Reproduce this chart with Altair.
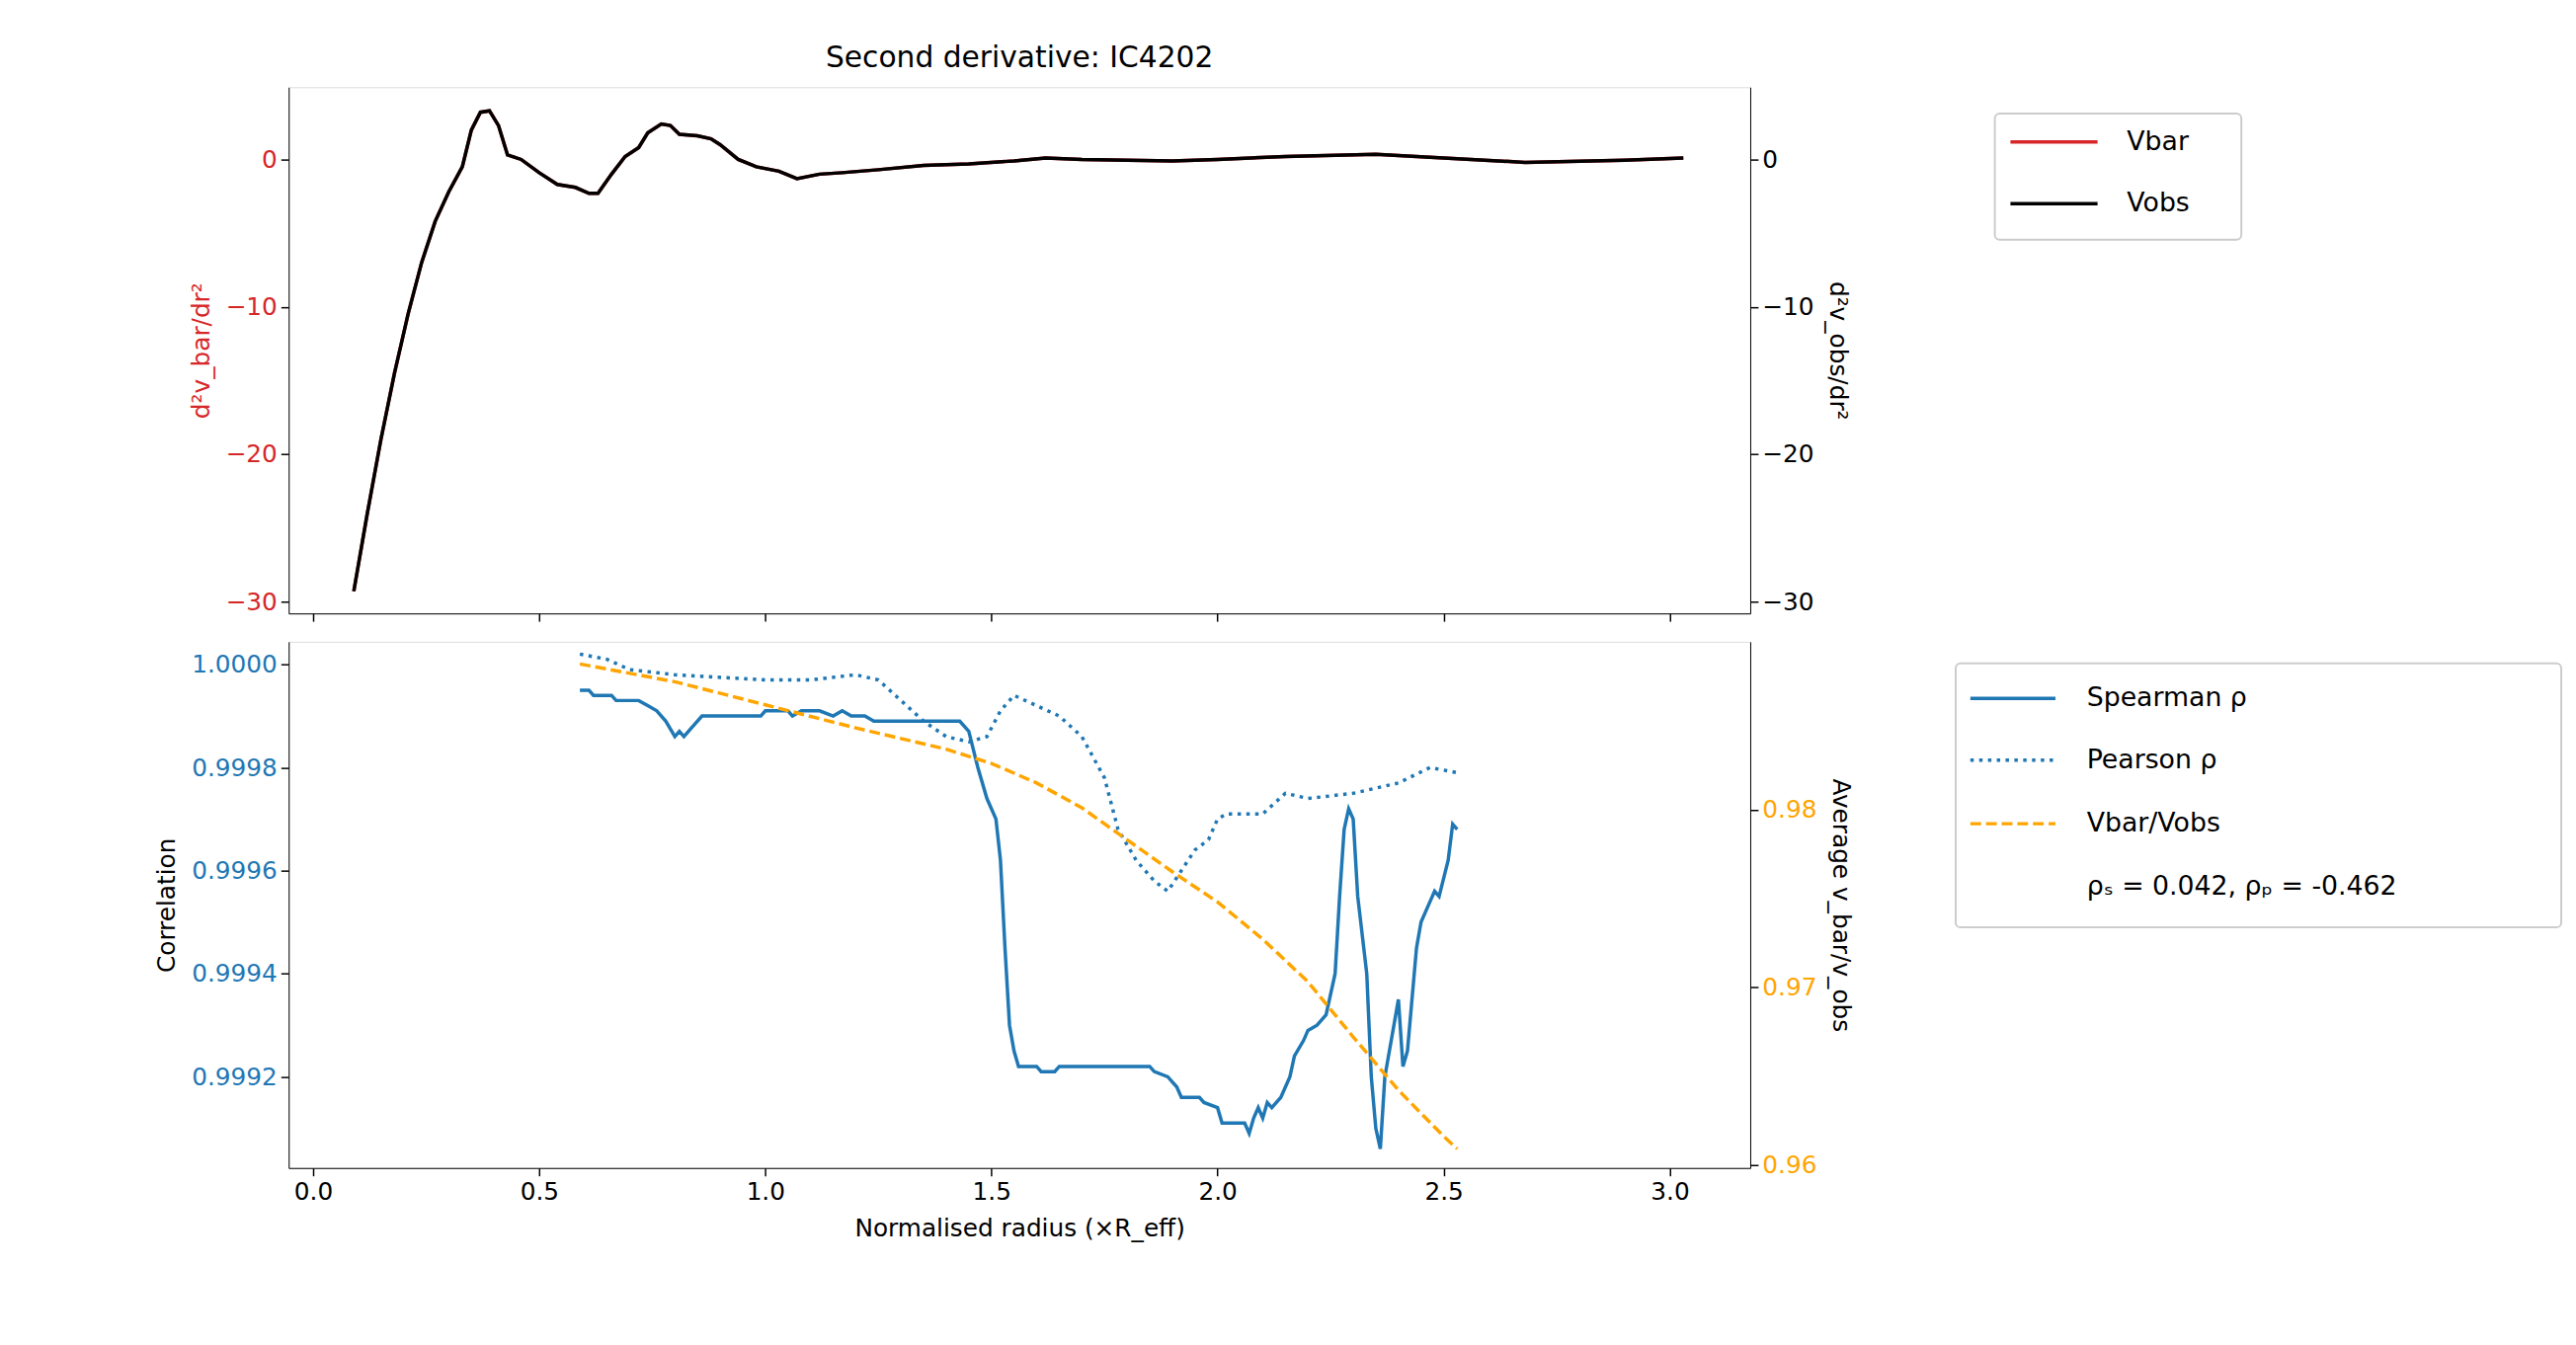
import pandas as pd
import altair as alt

# ── DATA ──────────────────────────────────────────────────────────────
r_top = [0.09, 0.12, 0.15, 0.18, 0.21, 0.24, 0.27, 0.30, 0.33, 0.35, 0.37, 0.39, 0.41, 0.43,
         0.46, 0.50, 0.54, 0.58, 0.61, 0.63, 0.66, 0.69, 0.72, 0.74, 0.77, 0.79, 0.81, 0.85,
         0.88, 0.90, 0.94, 0.98, 1.03, 1.07, 1.12, 1.17, 1.25, 1.35, 1.45, 1.55, 1.62, 1.70,
         1.90, 2.00, 2.15, 2.35, 2.50, 2.68, 2.90, 3.03]
d2_vobs = [-29.3, -24.0, -19.0, -14.5, -10.5, -7.0, -4.2, -2.2, -0.5, 2.0, 3.2, 3.3, 2.3, 0.3,
           0.0, -0.9, -1.7, -1.9, -2.3, -2.3, -1.0, 0.2, 0.8, 1.8, 2.4, 2.3, 1.7, 1.6,
           1.4, 1.0, 0.0, -0.5, -0.8, -1.3, -1.0, -0.9, -0.7, -0.4, -0.3, -0.1, 0.1, 0.0,
           -0.1, 0.0, 0.2, 0.35, 0.1, -0.2, -0.05, 0.1]
d2_vbar = [-29.3, -24.0, -19.0, -14.5, -10.5, -7.0, -4.2, -2.2, -0.5, 2.0, 3.2, 3.3, 2.3, 0.3,
           0.0, -0.9, -1.7, -1.9, -2.3, -2.3, -1.0, 0.2, 0.8, 1.8, 2.4, 2.3, 1.7, 1.6,
           1.4, 1.0, 0.0, -0.5, -0.8, -1.3, -1.0, -0.9, -0.7, -0.4, -0.3, -0.1, 0.1, 0.0,
           -0.1, 0.0, 0.2, 0.35, 0.1, -0.2, -0.05, 0.1]

r_spear = [0.59, 0.61, 0.62, 0.66, 0.67, 0.72, 0.74, 0.76, 0.78, 0.80, 0.81, 0.82, 0.84, 0.86,
           0.90, 0.99, 1.00, 1.05, 1.06, 1.08, 1.12, 1.15, 1.17, 1.19, 1.22, 1.24, 1.43, 1.45,
           1.47, 1.49, 1.51, 1.52, 1.53, 1.54, 1.55, 1.56, 1.60, 1.61, 1.64, 1.65, 1.85, 1.86,
           1.89, 1.91, 1.92, 1.96, 1.97, 2.00, 2.01, 2.06, 2.07, 2.08, 2.09, 2.10, 2.11, 2.12,
           2.14, 2.16, 2.17, 2.19, 2.20, 2.22, 2.24, 2.26, 2.27, 2.28, 2.29, 2.30, 2.31, 2.33,
           2.34, 2.35, 2.36, 2.37, 2.39, 2.40, 2.41, 2.42, 2.44, 2.45, 2.47, 2.48, 2.49, 2.51,
           2.52, 2.53]
spearman = [0.99995, 0.99995, 0.99994, 0.99994, 0.99993, 0.99993, 0.99992, 0.99991, 0.99989,
            0.99986, 0.99987, 0.99986, 0.99988, 0.99990, 0.99990, 0.99990, 0.99991, 0.99991,
            0.99990, 0.99991, 0.99991, 0.99990, 0.99991, 0.99990, 0.99990, 0.99989, 0.99989,
            0.99987, 0.99980, 0.99974, 0.99970, 0.99962, 0.99945, 0.99930, 0.99925, 0.99922,
            0.99922, 0.99921, 0.99921, 0.99922, 0.99922, 0.99921, 0.99920, 0.99918, 0.99916,
            0.99916, 0.99915, 0.99914, 0.99911, 0.99911, 0.99909, 0.99912, 0.99914, 0.99912,
            0.99915, 0.99914, 0.99916, 0.99920, 0.99924, 0.99927, 0.99929, 0.99930, 0.99932,
            0.99940, 0.99955, 0.99968, 0.99972, 0.99970, 0.99955, 0.99940, 0.99920, 0.99910,
            0.99906, 0.99920, 0.99930, 0.99935, 0.99922, 0.99925, 0.99945, 0.99950, 0.99954,
            0.99956, 0.99955, 0.99962, 0.99969, 0.99968]

r_pear = [0.59, 0.65, 0.70, 0.80, 1.00, 1.10, 1.20, 1.25, 1.30, 1.35, 1.40, 1.45, 1.49, 1.52,
          1.55, 1.60, 1.65, 1.70, 1.75, 1.78, 1.82, 1.86, 1.89, 1.92, 1.95, 1.98, 2.00, 2.02,
          2.10, 2.15, 2.20, 2.30, 2.40, 2.47, 2.53]
pearson = [1.00002, 1.00001, 0.99999, 0.99998, 0.99997, 0.99997, 0.99998, 0.99997, 0.99993,
           0.99989, 0.99986, 0.99985, 0.99986, 0.99991, 0.99994, 0.99992, 0.99990, 0.99986,
           0.99978, 0.99968, 0.99962, 0.99958, 0.99956, 0.99960, 0.99964, 0.99966, 0.99970,
           0.99971, 0.99971, 0.99975, 0.99974, 0.99975, 0.99977, 0.99980, 0.99979]

r_ratio = [0.59, 0.80, 1.00, 1.20, 1.40, 1.50, 1.60, 1.70, 1.80, 1.90, 2.00, 2.10, 2.20,
           2.30, 2.40, 2.50, 2.53]
ratio = [0.9882, 0.9872, 0.9859, 0.9846, 0.9834, 0.9826, 0.9815, 0.9801, 0.9783, 0.9765,
         0.9748, 0.9727, 0.9703, 0.9672, 0.9642, 0.9616, 0.9609]

top_labels = ["Vbar", "Vobs"]
bottom_labels = ["Spearman ρ", "Pearson ρ", "Vbar/Vobs", "ρₛ = 0.042, ρₚ = -0.462"]

# ── STYLE ─────────────────────────────────────────────────────────────
W, H = 1494, 538
FONT = "DejaVu Sans"
FS = 25
BLUE, ORANGE, RED = "#1f77b4", "#FFA500", "#d62728"
xscale = alt.Scale(domain=[-0.054, 3.178], nice=False, zero=False)
xticks = [0, 0.5, 1, 1.5, 2, 2.5, 3]


def axis(**kw):
    base = dict(labelFont=FONT, titleFont=FONT, labelFontSize=FS, titleFontSize=FS,
                titleFontWeight="normal", grid=False, tickSize=8, tickWidth=1.5,
                domainColor="black", tickColor="black", labelColor="black",
                titleColor="black", labelPadding=4, titlePadding=12)
    base.update(kw)
    return alt.Axis(**base)


def legend_layers(items, box, line_x, text_x, ys):
    layers = [alt.Chart(pd.DataFrame({"a": [0]})).mark_rect(
        fill="white", stroke="#cccccc", strokeWidth=2, cornerRadius=5
    ).encode(x=alt.value(box[0]), x2=alt.value(box[1]), y=alt.value(box[2]), y2=alt.value(box[3]))]
    for (label, color, dash), y in zip(items, ys):
        if color:
            layers.append(alt.Chart(pd.DataFrame({"a": [0]})).mark_rule(
                color=color, strokeWidth=3.5, strokeDash=dash
            ).encode(x=alt.value(line_x[0]), x2=alt.value(line_x[1]), y=alt.value(y)))
        layers.append(alt.Chart(pd.DataFrame({"t": [label]})).mark_text(
            font=FONT, fontSize=FS + 2, align="left", baseline="middle", color="black"
        ).encode(x=alt.value(text_x), y=alt.value(y), text="t:N"))
    return layers


# ── TOP PANEL ─────────────────────────────────────────────────────────
top_df = pd.DataFrame({"r": r_top, "vbar": d2_vbar, "vobs": d2_vobs})
ydom_top = alt.Scale(domain=[-30.8, 4.9], nice=False, zero=False)
x_top = alt.X("r:Q", scale=xscale, axis=axis(labels=False, title=None, values=xticks))

vbar_line = alt.Chart(top_df).mark_line(color=RED, strokeWidth=3.5).encode(
    x=x_top,
    y=alt.Y("vbar:Q", scale=ydom_top,
            axis=axis(title="d²v_bar/dr²", titleColor=RED, labelColor=RED, values=[-30, -20, -10, 0])))
vobs_line = alt.Chart(top_df).mark_line(color="black", strokeWidth=3.5).encode(
    x=x_top,
    y=alt.Y("vobs:Q", scale=ydom_top,
            axis=axis(title="d²v_obs/dr²", orient="right", values=[-30, -20, -10, 0])))

top_items = [(top_labels[0], RED, [1, 0]), (top_labels[1], "black", [1, 0])]
top = alt.layer(vbar_line, vobs_line,
                *legend_layers(top_items, (1744, 1996, 27, 156), (1760, 1849), 1879, [56, 119])
                ).resolve_scale(y="independent").properties(
    width=W, height=H,
    title=alt.TitleParams("Second derivative: IC4202", font=FONT, fontSize=30,
                          fontWeight="normal", offset=14))

# ── BOTTOM PANEL ──────────────────────────────────────────────────────
ydom_corr = alt.Scale(domain=[0.999023, 1.000044], nice=False, zero=False)
x_bot = alt.X("r:Q", scale=xscale,
              axis=axis(title="Normalised radius (×R_eff)", format=".1f", values=xticks))
corr_axis = axis(title="Correlation", labelColor=BLUE, format=".4f",
                 values=[0.9992, 0.9994, 0.9996, 0.9998, 1.0])

spear_line = alt.Chart(pd.DataFrame({"r": r_spear, "c": spearman})).mark_line(
    color=BLUE, strokeWidth=3.5).encode(
    x=x_bot, y=alt.Y("c:Q", scale=ydom_corr, axis=corr_axis))
pear_line = alt.Chart(pd.DataFrame({"r": r_pear, "c": pearson})).mark_line(
    color=BLUE, strokeWidth=3.5, strokeDash=[3.5, 5.5]).encode(
    x=x_bot, y=alt.Y("c:Q", scale=ydom_corr, axis=corr_axis))
corr = alt.layer(spear_line, pear_line)

ratio_line = alt.Chart(pd.DataFrame({"r": r_ratio, "v": ratio})).mark_line(
    color=ORANGE, strokeWidth=3.5, strokeDash=[11, 5]).encode(
    x=x_bot,
    y=alt.Y("v:Q", scale=alt.Scale(domain=[0.95982, 0.98945], nice=False, zero=False),
            axis=axis(title="Average v_bar/v_obs", orient="right", labelColor=ORANGE,
                      format=".2f", values=[0.96, 0.97, 0.98])))

bottom_items = [(bottom_labels[0], BLUE, [1, 0]), (bottom_labels[1], BLUE, [3.5, 5.5]),
                (bottom_labels[2], ORANGE, [11, 5]), (bottom_labels[3], None, None)]
bottom = alt.layer(corr, ratio_line,
                   *legend_layers(bottom_items, (1704, 2323, 22, 292), (1719, 1806), 1838,
                                  [58, 121, 186, 251])
                   ).resolve_scale(y="independent").properties(width=W, height=H)

chart = alt.vconcat(top, bottom, spacing=18).properties(
    padding={"left": 150, "top": 30, "right": 5, "bottom": 5}
).configure_view(stroke="black", strokeWidth=2).configure(background="white")

chart.save("out.html", embed_options={"renderer": "svg", "actions": False})
